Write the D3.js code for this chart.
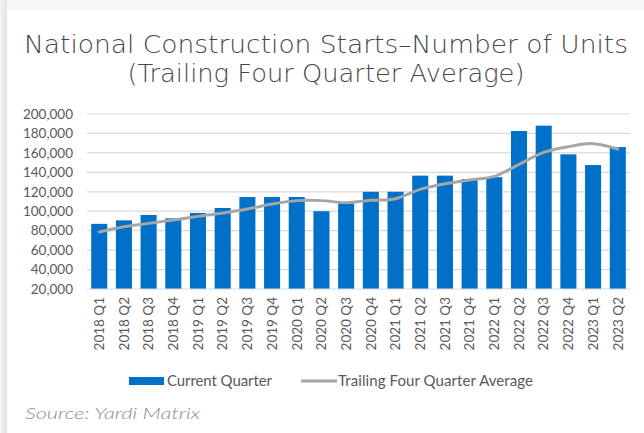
<!DOCTYPE html>
<html>
<head>
<meta charset="utf-8">
<script src="https://cdn.jsdelivr.net/npm/d3@7"></script>
<style>
  body { margin: 0; background: #ececec; }
  svg { display: block; }
</style>
</head>
<body>
<div id="chart"></div>
<script>
const quarters = [
  "2018 Q1", "2018 Q2", "2018 Q3", "2018 Q4",
  "2019 Q1", "2019 Q2", "2019 Q3", "2019 Q4",
  "2020 Q1", "2020 Q2", "2020 Q3", "2020 Q4",
  "2021 Q1", "2021 Q2", "2021 Q3", "2021 Q4",
  "2022 Q1", "2022 Q2", "2022 Q3", "2022 Q4",
  "2023 Q1", "2023 Q2"
]
const currentQuarter = [
  87000, 90600, 96100, 92700, 98200, 103300, 114600, 114600,
  114600, 100000, 108100, 120000, 120000, 136600, 136600, 133100,
  135000, 182500, 188000, 158500, 147500, 166000
]
const trailingAverage = [
  78600, 84100, 87500, 91000, 94700, 98200, 102300, 107400,
  110900, 110900, 108800, 111200, 112900, 122500, 128300, 132100,
  135900, 148200, 160600, 166400, 169500, 164000
]
const yTicks = [20000, 40000, 60000, 80000, 100000, 120000, 140000, 160000, 180000, 200000]
const titleLines = ["National Construction Starts\u2013Number of Units", "(Trailing Four Quarter Average)"]
const titleWidths = [604, 397]

const width = 644
const height = 433
const margin = { top: 114, right: 14, bottom: 144, left: 87 }
const blue = "#0070c8"
const gray = "#a6a6a6"
const labelFont = "Lato, 'Liberation Sans', sans-serif"
const titleFont = "'DejaVu Sans', 'Noto Sans', sans-serif"

const svg = d3.select("#chart")
  .append("svg")
  .attr("width", width)
  .attr("height", height)

// card background with soft shadow edge
const defs = svg.append("defs")
const gradL = defs.append("linearGradient").attr("id", "shadeL").attr("x1", 0).attr("x2", 1)
gradL.append("stop").attr("offset", 0).attr("stop-color", "#f4f4f4")
gradL.append("stop").attr("offset", 1).attr("stop-color", "#e2e2e2")
const gradT = defs.append("linearGradient").attr("id", "shadeT").attr("x1", 0).attr("x2", 0).attr("y1", 0).attr("y2", 1)
gradT.append("stop").attr("offset", 0).attr("stop-color", "#f6f6f6")
gradT.append("stop").attr("offset", 1).attr("stop-color", "#e6e6e6")
svg.append("rect").attr("width", width).attr("height", height).attr("fill", "url(#shadeT)")
svg.append("rect").attr("x", 0).attr("y", 0).attr("width", 7).attr("height", height).attr("fill", "url(#shadeL)")
svg.append("rect").attr("x", 7).attr("y", 10).attr("width", width - 7).attr("height", height - 10).attr("fill", "#fff")

svg.append("g")
  .selectAll("text")
  .data(titleLines)
  .enter()
  .append("text")
  .attr("x", 326)
  .attr("y", (d, i) => 52.5 + i * 29)
  .attr("text-anchor", "middle")
  .attr("textLength", (d, i) => titleWidths[i])
  .attr("lengthAdjust", "spacingAndGlyphs")
  .style("font-family", titleFont)
  .style("font-size", "24.5px")
  .style("font-weight", 200)
  .style("fill", "#474747")
  .text(d => d)

const innerW = width - margin.left - margin.right
const innerH = height - margin.top - margin.bottom

const g = svg.append("g").attr("transform", `translate(${margin.left},${margin.top})`)

const x = d3.scaleBand()
  .domain(quarters)
  .range([0, innerW])
  .paddingInner(0.35)
  .paddingOuter(0.17)

const y = d3.scaleLinear()
  .domain([20000, 200000])
  .range([innerH, 0])

const fmt = d3.format(",")

// gridlines
g.append("g")
  .selectAll("line")
  .data(yTicks.slice(1))
  .enter()
  .append("line")
  .attr("x1", 0)
  .attr("x2", innerW)
  .attr("y1", d => y(d))
  .attr("y2", d => y(d))
  .attr("stroke", "#d9d9d9")
  .attr("stroke-width", 1.2)

const yAxis = g.append("g")
  .call(d3.axisLeft(y).tickValues(yTicks).tickFormat(fmt).tickSize(0).tickPadding(14))
yAxis.select(".domain").remove()
yAxis.selectAll("text")
  .style("font-family", labelFont)
  .style("font-size", "13.5px")
  .style("fill", "#595959")

g.selectAll(".bar")
  .data(currentQuarter)
  .enter()
  .append("rect")
  .attr("class", "bar")
  .attr("x", (d, i) => x(quarters[i]))
  .attr("y", d => y(d))
  .attr("width", x.bandwidth())
  .attr("height", d => innerH - y(d))
  .attr("fill", blue)

// baseline
g.append("line")
  .attr("x1", 0)
  .attr("x2", innerW)
  .attr("y1", innerH)
  .attr("y2", innerH)
  .attr("stroke", "#d9d9d9")
  .attr("stroke-width", 1.2)

const line = d3.line()
  .x((d, i) => x(quarters[i]) + x.bandwidth() / 2)
  .y(d => y(d))
  .curve(d3.curveCatmullRom.alpha(0.5))

g.append("path")
  .datum(trailingAverage)
  .attr("d", line)
  .attr("fill", "none")
  .attr("stroke", gray)
  .attr("stroke-width", 3)
  .attr("stroke-linecap", "round")

const xAxis = g.append("g")
  .attr("transform", `translate(0,${innerH})`)
  .call(d3.axisBottom(x).tickSize(0).tickPadding(0))
xAxis.select(".domain").remove()
xAxis.selectAll("text")
  .attr("transform", "rotate(-90)")
  .attr("text-anchor", "end")
  .attr("x", -8)
  .attr("y", 0)
  .attr("dy", "0.35em")
  .style("font-family", labelFont)
  .style("font-size", "13.5px")
  .style("fill", "#595959")

// legend
const legend = svg.append("g").attr("transform", "translate(0,381)")
legend.append("rect")
  .attr("x", 129).attr("y", -4).attr("width", 35).attr("height", 8)
  .attr("fill", blue)
legend.append("text")
  .attr("x", 167).attr("y", 0).attr("dy", "0.35em")
  .attr("textLength", 105).attr("lengthAdjust", "spacing")
  .style("font-family", labelFont)
  .style("font-size", "15px")
  .style("fill", "#595959")
  .text("Current Quarter")
legend.append("line")
  .attr("x1", 301).attr("x2", 337).attr("y1", 0).attr("y2", 0)
  .attr("stroke", gray).attr("stroke-width", 3)
legend.append("text")
  .attr("x", 338).attr("y", 0).attr("dy", "0.35em")
  .attr("textLength", 195).attr("lengthAdjust", "spacing")
  .style("font-family", labelFont)
  .style("font-size", "15px")
  .style("fill", "#595959")
  .text("Trailing Four Quarter Average")

svg.append("text")
  .attr("x", 25)
  .attr("y", 419)
  .attr("textLength", 175)
  .attr("lengthAdjust", "spacingAndGlyphs")
  .style("font-family", "Lato, 'Open Sans', sans-serif")
  .style("font-size", "16.5px")
  .style("font-style", "italic")
  .style("font-weight", 300)
  .style("fill", "#8c8c8c")
  .text("Source: Yardi Matrix")
</script>
</body>
</html>
